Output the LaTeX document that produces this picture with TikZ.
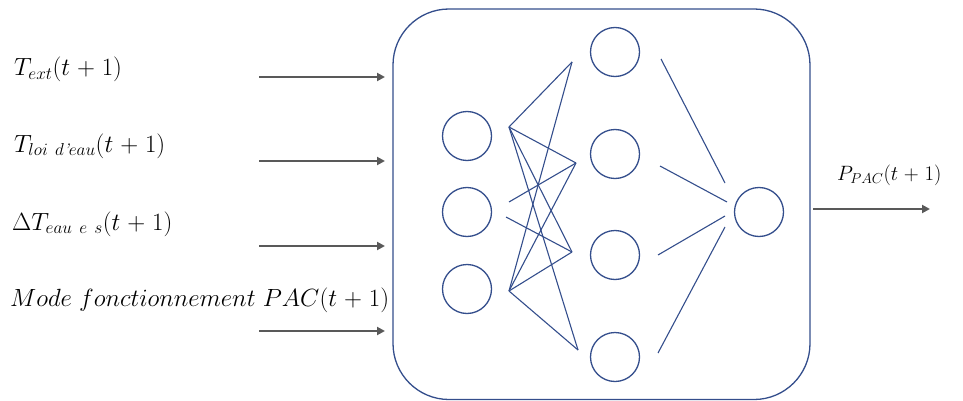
\documentclass[tikz,border=0pt]{standalone}
\usepackage{amsmath}
\usetikzlibrary{arrows.meta}
\definecolor{netblue}{RGB}{52,78,140}
\definecolor{arrgray}{RGB}{89,89,89}
\medmuskip=5mu plus 2mu minus 4mu
\begin{document}
\begin{tikzpicture}[x=1pt,y=-1pt,
  neuron/.style={circle,draw=netblue,line width=1.3pt,minimum size=49pt,inner sep=0pt},
  link/.style={draw=netblue,line width=1.1pt},
  inarrow/.style={draw=arrgray,line width=2.9pt,-{Triangle[length=8pt,width=8pt]}},
  lbl/.style={anchor=base west,inner sep=0pt,font=\fontsize{24}{28}\selectfont},
  boxstyle/.style={draw=netblue,line width=1.3pt,rounded corners=56pt}]
\useasboundingbox (0,0) rectangle (963,401);
% box
\draw[boxstyle] (393,9) rectangle (810,399.5);
% neurons
\node[neuron] (i1) at (467,136) {};
\node[neuron] (i2) at (467,212) {};
\node[neuron] (i3) at (467,289) {};
\node[neuron] (h1) at (615,52) {};
\node[neuron] (h2) at (615,154) {};
\node[neuron] (h3) at (615,255) {};
\node[neuron] (h4) at (615,357) {};
\node[neuron] (o1) at (759,212) {};
% connector end points
\coordinate (i1o) at (509,127);
\coordinate (i2a) at (509,202);
\coordinate (i2b) at (506,217);
\coordinate (i3o) at (509,291);
\coordinate (h1i) at (572,62);
\coordinate (h2i) at (576,163);
\coordinate (h3i) at (572,252);
\coordinate (h4i) at (578,350);
\coordinate (h1o) at (661,59);
\coordinate (h2o) at (660,166);
\coordinate (h3o) at (658,255);
\coordinate (h4o) at (658,353);
\coordinate (o1a) at (725,183);
\coordinate (o1b) at (727,202);
\coordinate (o1c) at (725,216);
\coordinate (o1d) at (725,227);
% input to hidden
\foreach \h in {h1i,h2i,h3i,h4i}{
  \draw[link] (i1o) -- (\h);
  \draw[link] (i3o) -- (\h);
}
\draw[link] (i2a) -- (h2i);
\draw[link] (i2b) -- (h3i);
% hidden to output
\draw[link] (h1o) -- (o1a);
\draw[link] (h2o) -- (o1b);
\draw[link] (h3o) -- (o1c);
\draw[link] (h4o) -- (o1d);
% input arrows
\coordinate (a1s) at (259,77);  \coordinate (a1e) at (385,77);
\coordinate (a2s) at (259,161); \coordinate (a2e) at (385,161);
\coordinate (a3s) at (259,246); \coordinate (a3e) at (385,246);
\coordinate (a4s) at (259,331); \coordinate (a4e) at (385,331);
\draw[inarrow] (a1s) -- (a1e);
\draw[inarrow] (a2s) -- (a2e);
\draw[inarrow] (a3s) -- (a3e);
\draw[inarrow] (a4s) -- (a4e);
% output arrow
\coordinate (ous) at (813,209); \coordinate (oue) at (930,209);
\draw[inarrow] (ous) -- (oue);
% labels
\node[lbl] (l1) at (14,76) {$T_{ext}(t+1)$};
\node[lbl] (l2) at (14,152) {$T_{loi\ d\text{\itshape '}eau}(t+1)$};
\node[lbl] (l3) at (12,230) {$\Delta T_{eau\ e\ s}(t+1)$};
\node[lbl] (l4) at (10,306) {$Mode\ fonctionnement\ PAC(t+1)$};
\node[lbl,font=\fontsize{22}{26}\selectfont] (l5) at (837,180) {$P_{PAC}(t+1)$};
\end{tikzpicture}
\end{document}
